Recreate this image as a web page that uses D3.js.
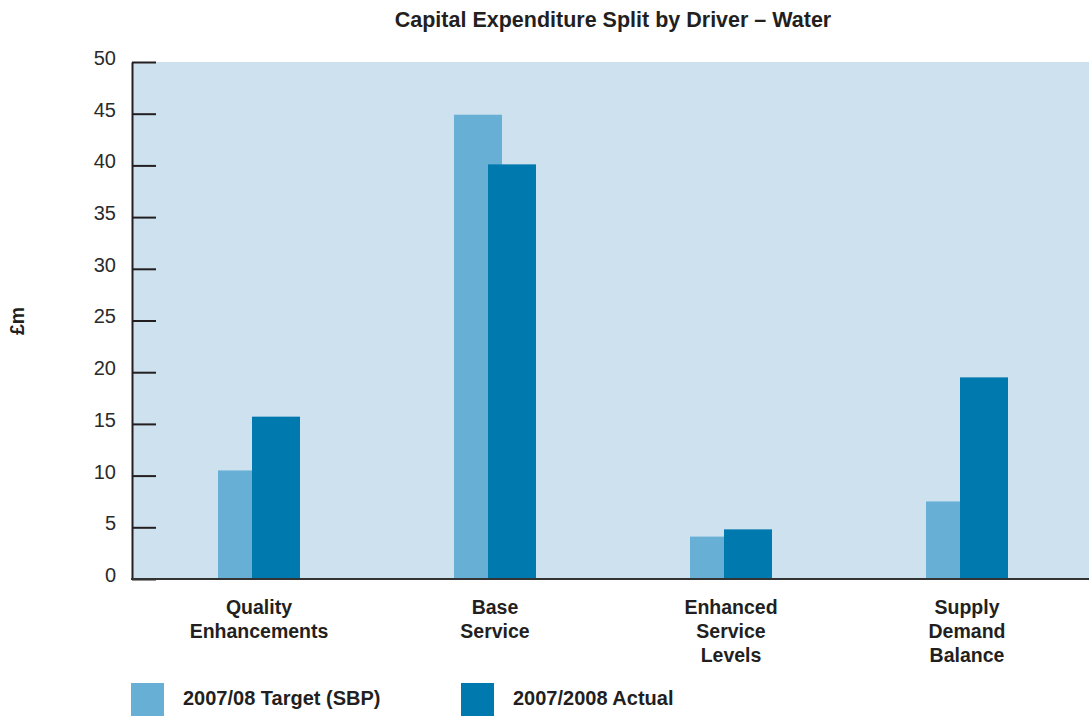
<!DOCTYPE html>
<html>
<head>
<meta charset="utf-8">
<script src="https://cdn.jsdelivr.net/npm/d3@7"></script>
<style>
  body { margin: 0; background: #fff; }
  svg { display: block; font-family: "Liberation Sans", Arial, Helvetica, sans-serif; }
</style>
</head>
<body>
<div id="chart"></div>
<script>
const categories = [
  ["Quality", "Enhancements"],
  ["Base", "Service"],
  ["Enhanced", "Service", "Levels"],
  ["Supply", "Demand", "Balance"]
];
const seriesNames = ["2007/08 Target (SBP)", "2007/2008 Actual"];
const targetValues = [10.5, 44.9, 4.1, 7.5];
const actualValues = [15.7, 40.1, 4.8, 19.5];
const yTicks = [0, 5, 10, 15, 20, 25, 30, 35, 40, 45, 50];

const width = 1089;
const height = 716;
const colors = ["#67afd5", "#007aae"];
const textColor = "#231f20";

const svg = d3.select("#chart")
  .append("svg")
  .attr("width", width)
  .attr("height", height);

const plotLeft = 133, plotRight = 1089, plotTop = 62, plotBottom = 579;

const y = d3.scaleLinear().domain([0, 50]).range([plotBottom, plotTop]);

const catKeys = categories.map(c => c.join(" "));
const x0 = d3.scaleBand().domain(catKeys).range([141, 1085]).padding(0);
const x1 = d3.scaleBand().domain(seriesNames).range([-41, 27]).padding(0);
const barWidth = 48;

// background
svg.append("rect")
  .attr("x", plotLeft)
  .attr("y", plotTop)
  .attr("width", plotRight - plotLeft)
  .attr("height", plotBottom - plotTop)
  .attr("fill", "#cee1ef");

// title
svg.append("text")
  .attr("x", 613)
  .attr("y", 27)
  .attr("text-anchor", "middle")
  .style("font-size", "21.5px")
  .style("font-weight", "bold")
  .attr("fill", textColor)
  .text("Capital Expenditure Split by Driver – Water");

// bars
const data = catKeys.map((k, i) => ({
  key: k,
  values: [
    { series: seriesNames[0], value: targetValues[i] },
    { series: seriesNames[1], value: actualValues[i] }
  ]
}));

const groups = svg.append("g").selectAll("g")
  .data(data)
  .enter().append("g")
  .attr("transform", d => `translate(${x0(d.key) + x0.bandwidth() / 2},0)`);

groups.selectAll("rect")
  .data(d => d.values)
  .enter().append("rect")
  .attr("x", d => x1(d.series))
  .attr("y", d => y(d.value))
  .attr("width", barWidth)
  .attr("height", d => y(0) - y(d.value))
  .attr("fill", (d, i) => colors[i]);

// y axis
const yAxis = d3.axisLeft(y)
  .tickValues(yTicks)
  .tickSizeInner(-24)
  .tickSizeOuter(0)
  .tickPadding(16);

const yg = svg.append("g")
  .attr("transform", `translate(${plotLeft - 1},0)`)
  .call(yAxis);
yg.select(".domain").attr("stroke", textColor).attr("stroke-width", 2);
yg.selectAll(".tick line").attr("stroke", textColor).attr("stroke-width", 2);
yg.selectAll(".tick text")
  .attr("dy", "0.12em")
  .style("font-size", "20px")
  .style("font-family", "\"Liberation Sans\", Arial, sans-serif")
  .attr("fill", "#2a2a2a");

// x axis line
svg.append("line")
  .attr("x1", plotLeft - 2)
  .attr("x2", plotRight)
  .attr("y1", plotBottom)
  .attr("y2", plotBottom)
  .attr("stroke", "#333")
  .attr("stroke-width", 2);

// category labels
const labels = svg.append("g").selectAll("text")
  .data(categories)
  .enter().append("text")
  .attr("text-anchor", "middle")
  .style("font-size", "19.5px")
  .style("font-weight", "bold")
  .attr("fill", textColor);

labels.selectAll("tspan")
  .data(d => d.map(line => ({ line, key: d.join(" ") })))
  .enter().append("tspan")
  .attr("x", d => x0(d.key) + x0.bandwidth() / 2)
  .attr("y", (d, i) => 614 + i * 24)
  .text(d => d.line);

// y label
svg.append("text")
  .attr("transform", "translate(24,321) rotate(-90)")
  .attr("text-anchor", "middle")
  .style("font-size", "19.5px")
  .style("font-weight", "bold")
  .attr("fill", textColor)
  .text("£m");

// legend
const legendX = [131, 461];
const legend = svg.append("g").selectAll("g")
  .data(seriesNames)
  .enter().append("g")
  .attr("transform", (d, i) => `translate(${legendX[i]},683)`);

legend.append("rect")
  .attr("width", 33)
  .attr("height", 33)
  .attr("fill", (d, i) => colors[i]);

legend.append("text")
  .attr("x", 52)
  .attr("y", 22)
  .style("font-size", "20px")
  .style("font-weight", "bold")
  .attr("fill", textColor)
  .text(d => d);
</script>
</body>
</html>
